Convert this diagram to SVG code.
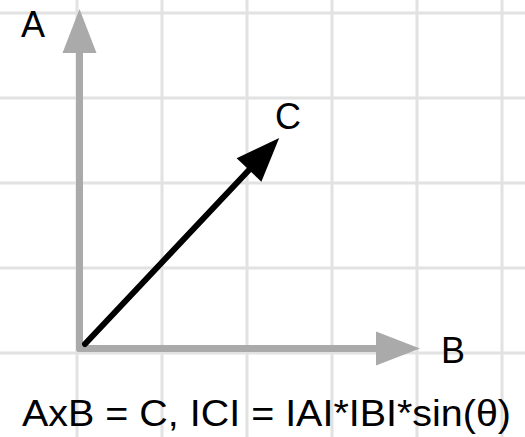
<svg xmlns="http://www.w3.org/2000/svg" width="525" height="437" viewBox="0 0 525 437">
  <style>
    .grid line { stroke: #e2e2e2; stroke-width: 3; }
    .lbl { font-family: "Liberation Sans", Arial, Helvetica, sans-serif; font-size: 36px; fill: #000; }
    .vec-gray { stroke: #aaaaaa; stroke-width: 7; fill: none; }
    .vec-black { stroke: #000; stroke-width: 6; fill: none; }
  </style>
  <defs>
    <marker id="headGray" markerUnits="userSpaceOnUse" markerWidth="44" markerHeight="34" refX="0" refY="17" orient="auto" overflow="visible">
      <path d="M0,0 L44,17 L0,34 Z" fill="#aaaaaa"/>
    </marker>
    <marker id="headBlack" markerUnits="userSpaceOnUse" markerWidth="44" markerHeight="34" refX="0" refY="17" orient="auto" overflow="visible">
      <path d="M0,0 L44,17 L0,34 Z" fill="#000"/>
    </marker>
  </defs>
  <rect width="525" height="437" fill="#fff"/>
  <g class="grid">
    <line x1="77" y1="0" x2="77" y2="437"/>
    <line x1="162" y1="0" x2="162" y2="437"/>
    <line x1="247" y1="0" x2="247" y2="437"/>
    <line x1="332" y1="0" x2="332" y2="437"/>
    <line x1="417" y1="0" x2="417" y2="437"/>
    <line x1="502" y1="0" x2="502" y2="437"/>
    <line x1="0" y1="13" x2="525" y2="13"/>
    <line x1="0" y1="98" x2="525" y2="98"/>
    <line x1="0" y1="183" x2="525" y2="183"/>
    <line x1="0" y1="268" x2="525" y2="268"/>
    <line x1="0" y1="353" x2="525" y2="353"/>
  </g>
  <g id="connectors">
    <path class="vec-gray" d="M79.5,348.5 L79.5,53" stroke-linecap="round" marker-end="url(#headGray)"/>
    <path class="vec-gray" d="M79.5,348.5 L376,348.5" stroke-linecap="round" marker-end="url(#headGray)"/>
    <path class="vec-black" d="M85,344 L249,170" stroke-linecap="round" marker-end="url(#headBlack)"/>
  </g>
  <g id="label-A"><text class="lbl" x="21" y="37">A</text></g>
  <g id="label-B"><text class="lbl" x="441" y="363">B</text></g>
  <g id="label-C"><text class="lbl" x="275" y="129">C</text></g>
  <g id="formula"><text class="lbl" x="22" y="426" textLength="489" lengthAdjust="spacingAndGlyphs">AxB = C, ICI = IAI*IBI*sin(θ)</text></g>
</svg>
